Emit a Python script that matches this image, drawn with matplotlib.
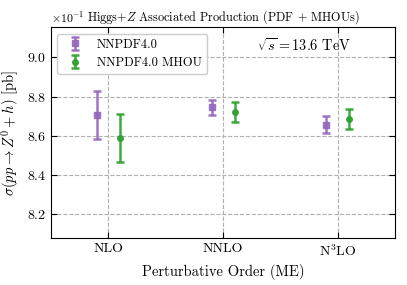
import numpy as np
import matplotlib
matplotlib.use('Agg')
import matplotlib.pyplot as plt

# data (pb)
orders = ['NLO', 'NNLO', r'N$^3$LO']
nnpdf = [0.8705, 0.8745, 0.8657]
nnpdf_err = [0.0123, 0.0040, 0.0043]
mhou = [0.8590, 0.8721, 0.8686]
mhou_err = [0.0121, 0.0050, 0.0049]

plt.rcParams['font.family'] = 'serif'
plt.rcParams['font.serif'] = ['cmr10']
plt.rcParams['mathtext.fontset'] = 'cm'
plt.rcParams['axes.unicode_minus'] = False
plt.rcParams['axes.formatter.use_mathtext'] = True

fig = plt.figure(figsize=(4.07, 2.85), dpi=100)
ax = fig.add_axes([0.125, 0.164, 0.846, 0.740])

x = np.arange(len(orders))
ax.errorbar(x - 0.1, nnpdf, yerr=nnpdf_err, fmt='s', color='#9467bd',
            ms=4, elinewidth=1.8, capsize=3, capthick=1.8, alpha=0.9,
            label='NNPDF4.0')
ax.errorbar(x + 0.1, mhou, yerr=mhou_err, fmt='o', color='#2ca02c',
            ms=4, elinewidth=1.8, capsize=3, capthick=1.8, alpha=0.9,
            label='NNPDF4.0 MHOU')

ax.set_xlim(-0.5, 2.5)
ax.set_ylim(0.8078, 0.9153)
ax.set_xticks(x)
ax.set_xticklabels(orders)
ax.set_yticks([0.82, 0.84, 0.86, 0.88, 0.90])
ax.ticklabel_format(axis='y', style='sci', scilimits=(-1, -1), useMathText=True)
ax.yaxis.get_offset_text().set_fontsize(8.5)
ax.tick_params(direction='in', top=True, right=True, labelsize=10, length=4)
ax.grid(True, linestyle='--', color='#b0b0b0', linewidth=0.8)

ax.set_xlabel('Perturbative Order (ME)', fontsize=10.5)
ax.set_ylabel(r'$\sigma(pp \to Z^0 + h)$ [pb]', fontsize=10.5)
# title placed by hand so it sits beside the offset text
ax.text(0.104, 1.03, r'Higgs+$Z$ Associated Production (PDF + MHOUs)',
        transform=ax.transAxes, ha='left', va='baseline', fontsize=8.8)
ax.text(0.735, 0.915, r'$\sqrt{s} = 13.6$ TeV', transform=ax.transAxes,
        ha='center', va='center', fontsize=10.3)
ax.legend(loc='upper left', fontsize=9, framealpha=1)

fig.savefig('out.png', dpi=100)
